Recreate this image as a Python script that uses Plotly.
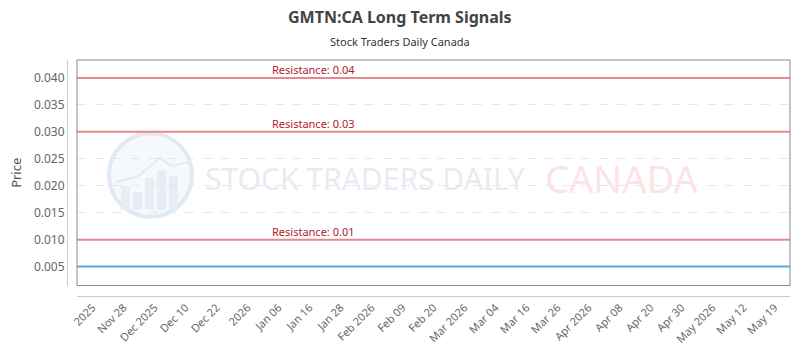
import plotly.graph_objects as go

# ---- data ----
x_labels = ["2025", "Nov 28", "Dec 2025", "Dec 10", "Dec 22", "2026", "Jan 06", "Jan 16",
            "Jan 28", "Feb 2026", "Feb 09", "Feb 20", "Mar 2026", "Mar 04", "Mar 16",
            "Mar 26", "Apr 2026", "Apr 08", "Apr 20", "Apr 30", "May 2026", "May 12", "May 19"]
prices = [0.005, 0.005, 0.005, 0.005, 0.005, 0.005, 0.005, 0.005, 0.005, 0.005, 0.005, 0.005,
          0.005, 0.005, 0.005, 0.005, 0.005, 0.005, 0.005, 0.005, 0.005, 0.005, 0.005]
resistance_levels = [0.04, 0.03, 0.01]
resistance_labels = ["Resistance: 0.04", "Resistance: 0.03", "Resistance: 0.01"]
y_ticks = [0.005, 0.010, 0.015, 0.020, 0.025, 0.030, 0.035, 0.040]
y_range = [0.00148, 0.04333]

FONT = "Noto Sans"
W, H = 800, 350
ml, mr, mt, mb = 67, 10, 59.5, 53.5
pw = W - ml - mr
ph = H - mt - mb
x_dom0 = 10 / pw
y_dom0 = 10.5 / ph


def px(x):
    return (x - ml) / pw


def py(y):
    return (H - mb - y) / ph


fig = go.Figure()

# category axis (labels) - invisible helper trace
fig.add_trace(go.Scatter(x=x_labels, y=[None] * len(x_labels), mode="lines",
                         showlegend=False, hoverinfo="skip"))

# price series on overlaying axis spanning full width
fig.add_trace(go.Scatter(x=list(range(len(prices))), y=prices, mode="lines",
                         line=dict(color="#4faaed", width=2), xaxis="x2",
                         showlegend=False))

# resistance lines
for lvl, lab in zip(resistance_levels, resistance_labels):
    fig.add_shape(type="line", xref="x domain", x0=0, x1=1, yref="y", y0=lvl, y1=lvl,
                  line=dict(color="#e8878e", width=2), layer="above")
    fig.add_annotation(xref="x domain", x=0.331, xanchor="center", yref="y", y=lvl,
                       yanchor="bottom", text=lab, showarrow=False, yshift=-1,
                       font=dict(family=FONT, size=11, color="#b0202e"))

# plot border
fig.add_shape(type="rect", xref="x domain", yref="y domain", x0=0, x1=1, y0=0, y1=1,
              line=dict(color="#888888", width=1), layer="above")

# watermark logo
fig.add_shape(type="circle", xref="paper", yref="paper",
              x0=px(109), x1=px(192), y0=py(217), y1=py(133),
              line=dict(color="#e1e9f2", width=4), fillcolor="rgba(243,247,251,0.8)",
              layer="below")
for bx0, bx1, btop in [(121, 130, 186), (133, 142, 192), (145, 154, 178), (157, 166, 170),
                       (169, 178, 176)]:
    fig.add_shape(type="rect", xref="paper", yref="paper",
                  x0=px(bx0), x1=px(bx1), y0=py(210), y1=py(btop),
                  line=dict(width=0), fillcolor="#e6edf5", layer="below")
fig.add_shape(type="path", xref="paper", yref="paper",
              path="M %f,%f L %f,%f L %f,%f L %f,%f L %f,%f" % (
                  px(116), py(182), px(138), py(176), px(160), py(158), px(172), py(166),
                  px(190), py(162)),
              line=dict(color="#e3eaf3", width=2), layer="below")
fig.add_annotation(xref="paper", yref="paper", x=px(203), y=py(178),
                   xanchor="left", yanchor="middle", showarrow=False,
                   text="STOCK TRADERS DAILY",
                   font=dict(family=FONT, size=30, color="#e7ecf2"))
fig.add_annotation(xref="paper", yref="paper", x=px(543), y=py(178),
                   xanchor="left", yanchor="middle", showarrow=False,
                   text="CANADA",
                   font=dict(family=FONT, size=38, color="#fce4e6"))

# titles
fig.add_annotation(xref="paper", yref="paper", x=px(400), y=py(16),
                   text="<b>GMTN:CA Long Term Signals</b>", showarrow=False,
                   xanchor="center", yanchor="middle",
                   font=dict(family=FONT, size=16, color="#444444"))
fig.add_annotation(xref="paper", yref="paper", x=px(400), y=py(41),
                   text="Stock Traders Daily Canada", showarrow=False,
                   xanchor="center", yanchor="middle",
                   font=dict(family=FONT, size=11, color="#333333"))

fig.update_layout(
    width=W, height=H,
    margin=dict(l=ml, r=mr, t=mt, b=mb, autoexpand=False),
    paper_bgcolor="white", plot_bgcolor="white",
    font=dict(family=FONT, color="#666666"),
    xaxis=dict(domain=[x_dom0, 1], anchor="free", position=0, type="category",
               range=[-0.5, len(x_labels) - 0.5], tickangle=-45, automargin=False,
               tickfont=dict(size=11, color="#666666"),
               showline=True, linecolor="#cccccc", linewidth=1,
               showgrid=False, zeroline=False, ticks=""),
    xaxis2=dict(domain=[x_dom0, 1], overlaying="x", anchor="y",
                range=[0, len(prices) - 1], visible=False),
    yaxis=dict(domain=[y_dom0, 1], anchor="free", position=0, automargin=False,
               range=y_range, tickvals=y_ticks, tickformat=".3f",
               tickfont=dict(size=12, color="#666666"),
               showline=True, linecolor="#cccccc", linewidth=1,
               showgrid=True, gridcolor="#e6e6e6", griddash="dash", gridwidth=1,
               zeroline=False, ticks="",
               title=dict(text="Price", font=dict(size=13, color="#555555"), standoff=8)),
)

fig.write_html("out.html")
